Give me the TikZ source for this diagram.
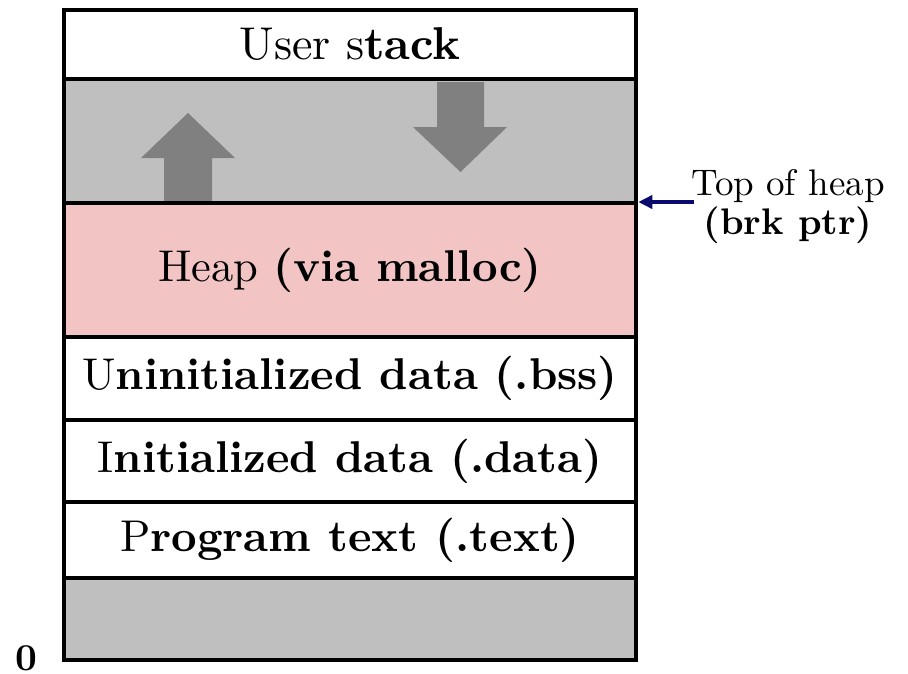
\documentclass[tikz,border=0pt]{standalone}
\usepackage{fontspec}
% use the 10pt design of Latin Modern at every size
\setmainfont{lmroman10-regular}[Extension=.otf, BoldFont=lmroman10-bold]
\usetikzlibrary{arrows.meta}
\definecolor{gapgray}{HTML}{BFBFBF}
\definecolor{arrowgray}{HTML}{808080}
\definecolor{heappink}{HTML}{F2C4C4}
\definecolor{ptrnavy}{HTML}{0A0A6E}
\tikzset{
  seg/.style={draw=black, line width=4.5pt, minimum width=572pt, inner sep=0pt,
    outer sep=0pt, font=\fontsize{44.5}{50}\selectfont},
  growarrow/.style={fill=arrowgray, draw=none},
  ptrline/.style={draw=ptrnavy, line width=3.5pt, -{Triangle[length=14pt,width=13pt]}},
}
\begin{document}
\begin{tikzpicture}[x=1pt,y=-1pt]
  \useasboundingbox (0,0) rectangle (908,673);
  % memory segments, top to bottom
  \node[seg, fill=white,     minimum height=69pt, font=\fontsize{46}{50}\selectfont]
                                                   (stack) at (350,44.5) {User s\textbf{tack}};
  \node[seg, fill=gapgray,   minimum height=124pt] (gap)   at (350,141)  {};
  \node[seg, fill=heappink,  minimum height=134pt] (heap)  at (350,270)  {Heap \textbf{(via malloc)}};
  \node[seg, fill=white,     minimum height=83pt]  (bss)   at (350,378.5){U\textbf{ninitialized data (.bss)}};
  \node[seg, fill=white,     minimum height=82pt]  (data)  at (350,461)  {I\textbf{nitialized data (.data)}};
  \node[seg, fill=white,     minimum height=76pt]  (text)  at (350,540)  {P\textbf{rogram text (.text)}};
  \node[seg, fill=gapgray,   minimum height=82pt]  (low)   at (350,619)  {};
  % growth arrows: heap grows up, stack grows down
  \fill[growarrow] (164,201) -- (164,158) -- (141,158) -- (188,113) -- (235,158)
                   -- (212,158) -- (212,201) -- cycle;
  \fill[growarrow] (437,82) -- (437,127) -- (413,127) -- (460.5,172) -- (507,127)
                   -- (484,127) -- (484,82) -- cycle;
  % boundary between the gap and the heap, over the arrow shaft
  \draw[line width=4.5pt] (gap.south west) -- (gap.south east);
  % break pointer
  \node[align=center, font=\fontsize{37}{39}\selectfont] (brk) at (788,207)
    {Top of heap\\\textbf{(brk ptr)}};
  \coordinate (ptr) at (694,202);
  \draw[ptrline] (ptr) -- ([xshift=2.25pt]ptr -| heap.east);
  % address zero
  \node[font=\fontsize{38}{42}\selectfont\bfseries, inner sep=0pt, anchor=base] (zero) at (26,670) {0};
\end{tikzpicture}
\end{document}
